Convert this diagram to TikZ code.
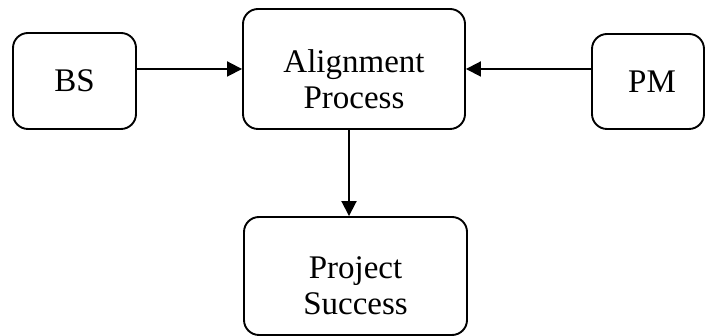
\documentclass[tikz,border=0pt]{standalone}
\usepackage{fontspec}
\setmainfont{Liberation Serif}
\usetikzlibrary{arrows.meta}
\begin{document}
\begin{tikzpicture}[x=1pt,y=1pt,
  box/.style={draw, line width=1.9pt, rounded corners=15pt, inner sep=0pt},
  lbl/.style={font=\fontsize{33}{36}\selectfont, align=center, inner sep=0pt},
  arr/.style={line width=1.9pt, -{Triangle[length=15pt,width=15pt]}}]
  \useasboundingbox (0,0) rectangle (706,336);
  % boxes (centres and sizes in pixels, y measured upwards)
  \node[box, minimum width=123pt, minimum height=96pt] (bs) at (74.5,255) {};
  \node[box, minimum width=222pt, minimum height=120pt] (ap) at (354,267) {};
  \node[box, minimum width=112pt, minimum height=95pt] (pm) at (648,254.5) {};
  \node[box, minimum width=223pt, minimum height=118pt] (ps) at (355.5,60) {};
  % texts
  \node[lbl] (bst) at (bs.center) {BS};
  \node[lbl] (apt) at ([yshift=-10pt]ap.center) {Alignment\\Process};
  \node[lbl] (pmt) at ([xshift=4pt]pm.center) {PM};
  \node[lbl] (pst) at ([yshift=-10pt]ps.center) {Project\\Success};
  % connectors
  \draw[arr] (bs.east |- ap.west) -- (ap.west);
  \draw[arr] (pm.west |- ap.east) -- (ap.east);
  \draw[arr] ([xshift=-5pt]ap.south) -- ([xshift=-5pt]ap.south |- ps.north);
\end{tikzpicture}
\end{document}
